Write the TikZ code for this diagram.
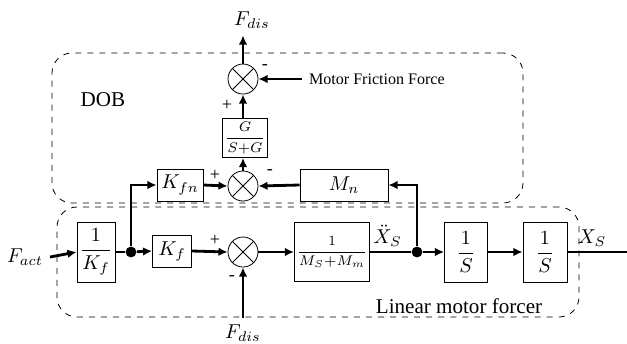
\documentclass[tikz,border=0pt]{standalone}
\usepackage{fontspec}
\setmainfont{Liberation Serif}
\usepackage{amsmath}
\usetikzlibrary{arrows.meta, positioning}

\begin{document}
\begin{tikzpicture}[
  x=0.0175cm, y=-0.0175cm,
  block/.style={rectangle, draw, thin, inner sep=1pt, align=center},
  sumpt/.style={circle, draw, thin, minimum size=30*0.0175cm, inner sep=0pt,
    path picture={\draw[thin] (path picture bounding box.north west) -- (path picture bounding box.south east)
      (path picture bounding box.north east) -- (path picture bounding box.south west);}},
  dot/.style={circle, fill, inner sep=0pt, minimum size=1.9mm},
  group/.style={rectangle, draw, dashed, thin, rounded corners=20*0.0175cm, inner sep=0pt},
  sign/.style={inner sep=0pt, font=\small},
  line/.style={-{Latex[length=1.6mm, width=1.5mm]}, line width=1.4pt},
  wire/.style={line width=1.4pt}
]
\useasboundingbox (0,0) rectangle (627,343);

% dashed groups
\node[group, minimum width=471*0.0175cm, minimum height=150*0.0175cm] (dob) at (287.5,128) {};
\node[group, minimum width=522*0.0175cm, minimum height=110*0.0175cm] (motor) at (318,262) {};
\node[font=\fontsize{10.5}{12}\selectfont] (doblabel) at (103,100) {DOB};
\node[font=\fontsize{10.5}{12}\selectfont] (motorlabel) at (459,306) {Linear motor forcer};

% forward path
\node (fact) at (25,257) {$F_{act}$};
\node[block, minimum width=38*0.0175cm, minimum height=60*0.0175cm] (kinv) at (96,252) {$\dfrac{1}{K_f}$};
\node[dot] (split1) at (131,252) {};
\node[block, minimum width=39*0.0175cm, minimum height=32*0.0175cm] (kf) at (172,251) {$K_f$};
\node[sumpt] (sum1) at (243,252) {};
\node (fdisb) at (243,333) {$F_{dis}$};
\node[block, minimum width=72*0.0175cm, minimum height=59*0.0175cm, font=\scriptsize] (mass) at (332,252) {$\dfrac{1}{M_S{+}M_m}$};
\node[anchor=west, inner sep=0pt] (acc) at (373,236) {$\ddot{X}_S$};
\node[dot] (split2) at (417,252) {};
\node[block, minimum width=43*0.0175cm, minimum height=60*0.0175cm] (int1) at (466,252) {$\dfrac{1}{S}$};
\node[block, minimum width=44*0.0175cm, minimum height=60*0.0175cm] (int2) at (545,252) {$\dfrac{1}{S}$};
\node (xs) at (592,238) {$X_S$};
\coordinate (out) at (627,252);

% observer
\node[block, minimum width=46*0.0175cm, minimum height=32*0.0175cm] (kfn) at (180,185) {$K_{fn}$};
\node[sumpt] (sum2) at (243,186) {};
\node[block, minimum width=88*0.0175cm, minimum height=32*0.0175cm] (mn) at (344,185) {$M_n$};
\node[block, minimum width=39*0.0175cm, minimum height=39*0.0175cm, font=\scriptsize] (filt) at (245,138) {$\dfrac{G}{S{+}G}$};
\node[sumpt] (sum3) at (243,79) {};
\node (fdist) at (252,20) {$F_{dis}$};
\node[font=\fontsize{8}{10}\selectfont, anchor=west] (fric) at (302,79) {Motor Friction Force};

% signs
\node[sign] at (215,240) {+};
\node[sign] at (232,278) {-};
\node[sign] at (215,175) {+};
\node[sign] at (270,172) {-};
\node[sign] at (227,105) {+};
\node[sign] at (265,67) {-};

% connectors
\draw[line] (fact.east) -- (kinv.west);
\draw[wire] (kinv.east) -- (split1);
\draw[line] (split1) -- (kf.west);
\draw[line] (split1) |- (kfn.west);
\draw[line] (kf.east) -- (sum1.west);
\draw[line] (fdisb.north) -- (sum1.south);
\draw[line] (sum1.east) -- (mass.west);
\draw[wire] (mass.east) -- (split2);
\draw[line] (split2) -- (int1.west);
\draw[line] (split2) |- (mn.east);
\draw[line] (int1.east) -- (int2.west);
\draw[wire] (int2.east) -- (out);
\draw[line] (kfn.east) -- (sum2.west);
\draw[line] (mn.west) -- (sum2.east);
\draw[line] (sum2.north) -- (sum2.north |- filt.south);
\draw[line] (sum3.south |- filt.north) -- (sum3.south);
\draw[line] (fric.west) -- (sum3.east);
\draw[line] (sum3.north) -- (fdist.south -| sum3.north);
\end{tikzpicture}
\end{document}
